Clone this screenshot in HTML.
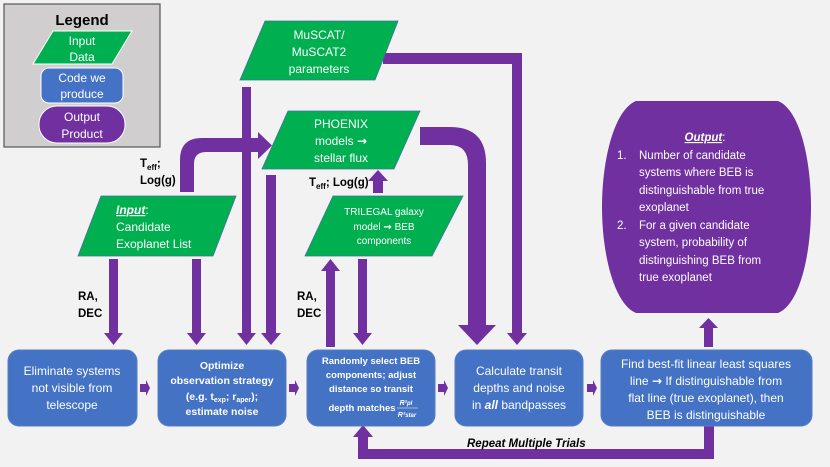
<!DOCTYPE html>
<html><head><meta charset="utf-8"><style>
html,body{margin:0;padding:0;background:#f2f2f2;}
svg{display:block;font-family:"Liberation Sans",sans-serif;}
.ar{font-family:"DejaVu Sans",sans-serif;font-weight:bold;}
</style></head><body>
<svg width="830" height="467" viewBox="0 0 830 467" xmlns="http://www.w3.org/2000/svg">
<rect width="830" height="467" fill="#f2f2f2"/>
<!-- Legend -->
<rect x="4" y="4" width="156" height="143" fill="#d0cece" stroke="#555" stroke-width="1.2"/>
<text x="82" y="25" font-size="15" font-weight="bold" text-anchor="middle" fill="#000">Legend</text>
<polygon points="53,31 132,31 112,64 33,64" fill="#00b050" stroke="#fff" stroke-width="1"/>
<text x="82" y="45" font-size="12" text-anchor="middle" fill="#fff">Input</text>
<text x="82" y="61" font-size="12" text-anchor="middle" fill="#fff">Data</text>
<rect x="41" y="68" width="82" height="35" rx="8" fill="#4472c4" stroke="#fff"/>
<text x="82" y="82" font-size="12" text-anchor="middle" fill="#fff">Code we</text>
<text x="82" y="98" font-size="12" text-anchor="middle" fill="#fff">produce</text>
<rect x="39" y="106" width="86" height="37" rx="18" fill="#7030a0" stroke="#fff"/>
<text x="82" y="121" font-size="12" text-anchor="middle" fill="#fff">Output</text>
<text x="82" y="138" font-size="12" text-anchor="middle" fill="#fff">Product</text>

<g fill="#7030a0">
<rect x="383" y="53" width="139" height="11"/>
<rect x="512" y="53" width="10" height="280"/>
<polygon points="507,333 527,333 517,345"/>
<rect x="242" y="87" width="9" height="246"/>
<polygon points="237,333 256,333 246.5,345"/>
<rect x="266" y="175" width="10" height="158"/>
<polygon points="261,333 281,333 271,345"/>
<path d="M180,192 L180,160 Q180,138 202,138 L258,138 L258,152 L206,152 Q194,152 194,164 L194,192 Z"/>
<polygon points="258,132 272,145.5 258,159"/>
<path d="M420,127 L450,127 Q486,127 486,163 L486,325 L468,325 L468,165 Q468,145 450,145 L420,145 Z"/>
<polygon points="458,325 496,325 477,345"/>
<rect x="373" y="180" width="10" height="13"/>
<polygon points="368,181 388,181 378,170"/>
<rect x="109" y="259" width="9" height="74"/>
<polygon points="104,333 123,333 113.5,345"/>
<rect x="192" y="259" width="9" height="74"/>
<polygon points="187,333 206,333 196.5,345"/>
<rect x="326" y="270" width="9" height="77"/>
<polygon points="321,271 340,271 330.5,259"/>
<rect x="358" y="259" width="9" height="74"/>
<polygon points="353,333 372,333 362.5,345"/>
<polygon points="140,384 146,384 146,380 150,388 146,396 146,392 140,392"/>
<polygon points="289,384 295,384 295,380 299,388 295,396 295,392 289,392"/>
<polygon points="438,384 444,384 444,380 448,388 444,396 444,392 438,392"/>
<polygon points="587,384 593,384 593,380 597,388 593,396 593,392 587,392"/>
<rect x="704" y="327" width="9" height="20"/>
<polygon points="699,328 718,328 708.5,318"/>
<rect x="704" y="426" width="10" height="33"/>
<rect x="358" y="449" width="356" height="10"/>
<rect x="358" y="436" width="10" height="23"/>
<polygon points="353,437 373,437 363,425"/>
</g>

<polygon points="265,21 398,21 375,80 240,80" fill="#00b050" stroke="#41719c" stroke-width="0.8"/>
<text x="319" y="39" font-size="12" text-anchor="middle" fill="#fff">MuSCAT/</text>
<text x="319" y="56" font-size="12" text-anchor="middle" fill="#fff">MuSCAT2</text>
<text x="319" y="73" font-size="12" text-anchor="middle" fill="#fff">parameters</text>

<polygon points="288,111 420,111 394,169 262,169" fill="#00b050" stroke="#41719c" stroke-width="0.8"/>
<text x="341" y="128" font-size="12" text-anchor="middle" fill="#fff">PHOENIX</text>
<text x="341" y="145" font-size="12" text-anchor="middle" fill="#fff">models <tspan class="ar">→</tspan></text>
<text x="341" y="162" font-size="12" text-anchor="middle" fill="#fff">stellar flux</text>

<polygon points="101,196 236,196 213,256 78,256" fill="#00b050" stroke="#41719c" stroke-width="0.8"/>
<text x="116" y="214" font-size="12" fill="#fff"><tspan font-weight="bold" font-style="italic" text-decoration="underline">Input</tspan>:</text>
<text x="116" y="231" font-size="12" fill="#fff">Candidate</text>
<text x="116" y="248" font-size="12" fill="#fff">Exoplanet List</text>

<polygon points="333,196 463,196 432,256 305,256" fill="#00b050" stroke="#41719c" stroke-width="0.8"/>
<text x="384" y="215" font-size="10" text-anchor="middle" fill="#fff">TRILEGAL galaxy</text>
<text x="384" y="230" font-size="10" text-anchor="middle" fill="#fff">model <tspan class="ar">→</tspan> BEB</text>
<text x="384" y="244" font-size="10" text-anchor="middle" fill="#fff">components</text>

<g font-size="11.5" font-weight="bold" fill="#000">
<text x="140" y="167">T<tspan font-size="8" dy="3">eff</tspan><tspan dy="-3">;</tspan></text>
<text x="140" y="184">Log(g)</text>
<text x="309" y="186">T<tspan font-size="8" dy="3">eff</tspan><tspan dy="-3">; Log(g)</tspan></text>
<text x="78" y="300">RA,</text>
<text x="78" y="317">DEC</text>
<text x="297" y="300">RA,</text>
<text x="297" y="317">DEC</text>
<text x="467" y="447" font-style="italic">Repeat Multiple Trials</text>
</g>

<path d="M636,101 L778,101 C800,110 811,160 811,207 C811,254 800,304 778,313 L636,313 C614,304 602,254 602,207 C602,160 614,110 636,101 Z" fill="#7030a0"/>
<g font-size="11.5" fill="#fff">
<text x="705" y="141" text-anchor="middle"><tspan font-weight="bold" font-style="italic" text-decoration="underline">Output</tspan>:</text>
<text x="617" y="159">1.</text>
<text x="639" y="159">Number of candidate</text>
<text x="639" y="176">systems where BEB is</text>
<text x="639" y="194">distinguishable from true</text>
<text x="639" y="211">exoplanet</text>
<text x="617" y="229">2.</text>
<text x="639" y="229">For a given candidate</text>
<text x="639" y="246">system, probability of</text>
<text x="639" y="264">distinguishing BEB from</text>
<text x="639" y="281">true exoplanet</text>
</g>

<g fill="#4472c4" stroke="#5b7fc0" stroke-width="1">
<rect x="8" y="350" width="129" height="76" rx="11"/>
<rect x="158" y="350" width="128" height="76" rx="11"/>
<rect x="307" y="350" width="128" height="76" rx="11"/>
<rect x="455" y="350" width="128" height="76" rx="11"/>
<rect x="601" y="350" width="211" height="76" rx="11"/>
</g>
<g fill="#fff" text-anchor="middle">
<g font-size="12">
<text x="72" y="375">Eliminate systems</text>
<text x="72" y="392">not visible from</text>
<text x="72" y="409">telescope</text>
</g>
<g font-size="10.5" font-weight="bold">
<text x="222" y="369">Optimize</text>
<text x="222" y="384">observation strategy</text>
<text x="222" y="400">(e.g. t<tspan font-size="7" dy="2">exp</tspan><tspan dy="-2">; r</tspan><tspan font-size="7" dy="2">aper</tspan><tspan dy="-2">);</tspan></text>
<text x="222" y="415">estimate noise</text>
</g>
<g font-size="9.5" font-weight="bold">
<text x="371" y="364">Randomly select BEB</text>
<text x="371" y="378">components; adjust</text>
<text x="371" y="392">distance so transit</text>
<text x="362" y="411">depth matches</text>
<text x="406" y="405" font-size="7" font-style="italic">R²<tspan font-size="6">pl</tspan></text>
<line x1="397" y1="408" x2="418" y2="408" stroke="#fff" stroke-width="0.6"/>
<text x="407" y="417" font-size="7" font-style="italic">R²<tspan font-size="6">star</tspan></text>
</g>
<g font-size="12">
<text x="519" y="375">Calculate transit</text>
<text x="519" y="392">depths and noise</text>
<text x="519" y="409">in <tspan font-weight="bold" font-style="italic">all</tspan> bandpasses</text>
<text x="706" y="368">Find best-fit linear least squares</text>
<text x="706" y="385">line <tspan class="ar">→</tspan> If distinguishable from</text>
<text x="706" y="402">flat line (true exoplanet), then</text>
<text x="706" y="419">BEB is distinguishable</text>
</g>
</g>
</svg>
</body></html>
